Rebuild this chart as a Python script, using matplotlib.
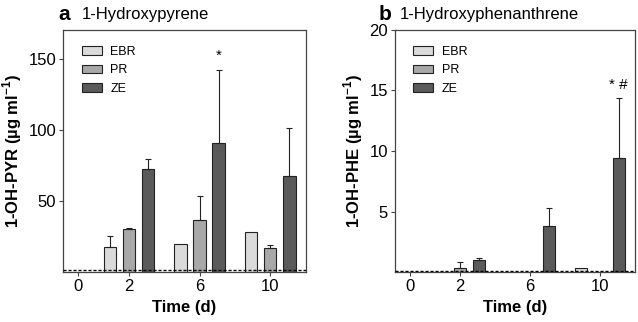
import matplotlib
matplotlib.use("Agg")
import matplotlib.pyplot as plt
from matplotlib.patches import Patch

plt.rcParams['font.family'] = ['Liberation Sans', 'DejaVu Sans']
plt.rcParams['mathtext.fontset'] = 'custom'
plt.rcParams['mathtext.rm'] = 'Liberation Sans'
plt.rcParams['mathtext.bf'] = 'Liberation Sans:bold'

# Dados
time_labels = ['0', '2', '6', '10']
groups = ['EBR', 'PR', 'ZE']
colors = ['#dadada', '#a8a8a8', '#5a5a5a']

pyr_mean = {
    'EBR': [0, 18, 20, 28.5],
    'PR': [0, 30.6, 37, 17.6],
    'ZE': [0, 73, 90.6, 68],
}
pyr_err = {
    'EBR': [0, 7.5, 0, 0],
    'PR': [0, 1.0, 17, 2.0],
    'ZE': [0, 6.7, 51.4, 33.7],
}
phe_mean = {
    'EBR': [0, 0, 0, 0.3],
    'PR': [0, 0.3, 0, 0],
    'ZE': [0, 1.0, 3.8, 9.4],
}
phe_err = {
    'EBR': [0, 0, 0, 0],
    'PR': [0, 0.5, 0, 0],
    'ZE': [0, 0.2, 1.5, 5.0],
}

# posições dos grupos no eixo x (o primeiro grupo fica mais próximo)
group_pos = [0.28, 1, 2, 3]
width = 0.175
offset = 0.27

fig = plt.figure(figsize=(6.38, 3.22), dpi=100)
ax_a = fig.add_axes([0.099, 0.155, 0.380, 0.752])
ax_b = fig.add_axes([0.619, 0.155, 0.376, 0.752])


def draw_panel(ax, means, errs, ylim, yticks, ylabel, limit, marks):
    for i, g in enumerate(groups):
        xs = [p + (i - 1) * offset for p in group_pos]
        ax.bar(xs, means[g], width, color=colors[i], edgecolor='#222222',
               linewidth=0.8, label=g, zorder=2)
        for x, m, e in zip(xs, means[g], errs[g]):
            if e > 0:
                ax.errorbar(x, m, yerr=[[0], [e]], color='#222222',
                            elinewidth=0.8, capsize=2.5, capthick=0.8, zorder=3)
    ax.axhline(limit, color='black', linestyle=(0, (2.2, 1.4)), linewidth=1.0, zorder=4)
    for grp, txt, y in marks:
        ax.text(group_pos[grp] + offset, y, txt, ha='center', va='bottom',
                fontsize=11)
    ax.set_xlim(0.07, 3.5)
    ax.set_ylim(*ylim)
    ax.set_yticks(yticks)
    ax.set_xticks(group_pos)
    ax.set_xticklabels(time_labels)
    ax.tick_params(axis='both', labelsize=12, length=3, width=0.8, color='#444444', pad=2)
    for s in ax.spines.values():
        s.set_color('#444444')
        s.set_linewidth(0.9)
    ax.set_xlabel('Time (d)', fontsize=12, fontweight='bold', labelpad=4)
    ax.set_ylabel(ylabel, fontsize=12, fontweight='bold', labelpad=3)
    handles = [Patch(facecolor=c, edgecolor='#222222', linewidth=0.8) for c in colors]
    ax.legend(handles, groups, loc='upper left', bbox_to_anchor=(0.03, 0.98),
              frameon=False, fontsize=9, handlelength=1.6, handleheight=0.7,
              labelspacing=0.5, handletextpad=0.7)


draw_panel(ax_a, pyr_mean, pyr_err, (0.5, 170), [50, 100, 150],
           r'1-OH-PYR (µg ml$^{\mathbf{-1}}$)', 2,
           [(2, '*', 147)])
draw_panel(ax_b, phe_mean, phe_err, (0, 20), [5, 10, 15, 20],
           r'1-OH-PHE (µg ml$^{\mathbf{-1}}$)', 0.12,
           [(3, '* #', 14.9)])

fig.text(0.092, 0.955, 'a', fontsize=15, fontweight='bold', va='center')
fig.text(0.128, 0.955, '1-Hydroxypyrene', fontsize=12, va='center')
fig.text(0.593, 0.955, 'b', fontsize=15, fontweight='bold', va='center')
fig.text(0.627, 0.955, '1-Hydroxyphenanthrene', fontsize=12, va='center')

plt.savefig('out.png', dpi=100)
